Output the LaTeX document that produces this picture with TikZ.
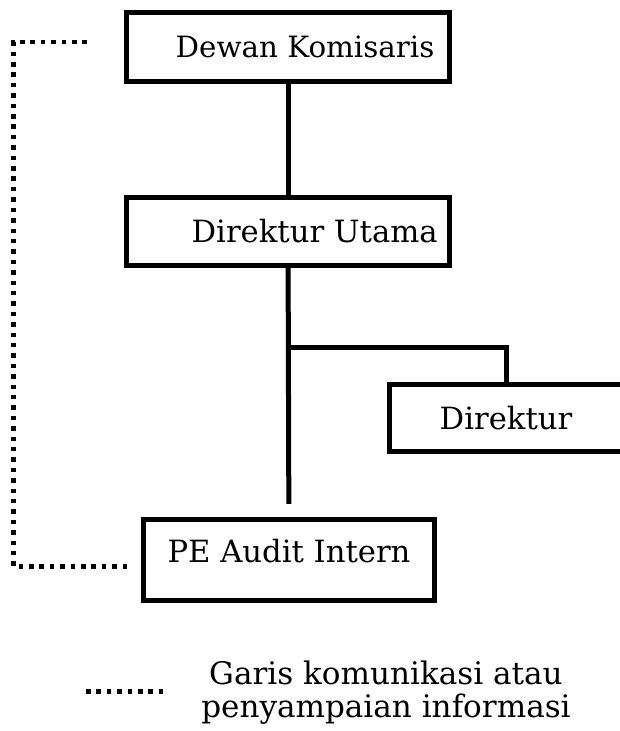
\documentclass[tikz,border=0pt]{standalone}
\usepackage{fontspec}
\setmainfont{DejaVu Serif}
\usetikzlibrary{positioning}
\tikzset{
  unit/.style={draw, line width=3.75pt, inner sep=0pt, font=\fontsize{23}{28}\selectfont},
  orgline/.style={line width=3.75pt},
  komline/.style={line width=3.4pt, dash pattern=on 3.4pt off 4.4pt},
  legtext/.style={align=center, inner sep=0pt, font=\fontsize{23.3}{24.75}\selectfont},
}
\begin{document}
\begin{tikzpicture}[x=0.75pt,y=-0.75pt]
\useasboundingbox (0,0) rectangle (620,731);

\node[unit, minimum width=242.6pt, minimum height=51.75pt, font=\fontsize{22}{28}\selectfont] (dk) at (288,47) {\hspace*{25.5pt}Dewan Komisaris};

\node[unit, minimum width=242.6pt, minimum height=51pt] (du) at (288,231) {\hspace*{40pt}Direktur Utama};

\node[unit, minimum width=174.7pt, minimum height=50.6pt] (dir) at (506,418) {Direktur};

\node[unit, minimum width=218.2pt, minimum height=60.4pt] (pe) at (289,560) {\raisebox{13pt}{PE Audit Intern}};

\coordinate (cab) at (288,347);

\draw[orgline] (dk) -- (du);

\draw[orgline, shorten >=10pt] (du) -- (pe);

\draw[orgline] (cab) -| (dir);

% garis komunikasi
\coordinate (k1) at (87,42);
\coordinate (k2) at (132,566.5);
\draw[komline] (k1) -- (13.5,42) -- (13.5,566.5) -- (k2);

% keterangan
\coordinate (l1) at (86,691.5);
\coordinate (l2) at (166,691.5);
\draw[komline] (l1) -- (l2);

\node[legtext] (leg) at (386,693) {Garis komunikasi atau\\penyampaian informasi};
\end{tikzpicture}
\end{document}
